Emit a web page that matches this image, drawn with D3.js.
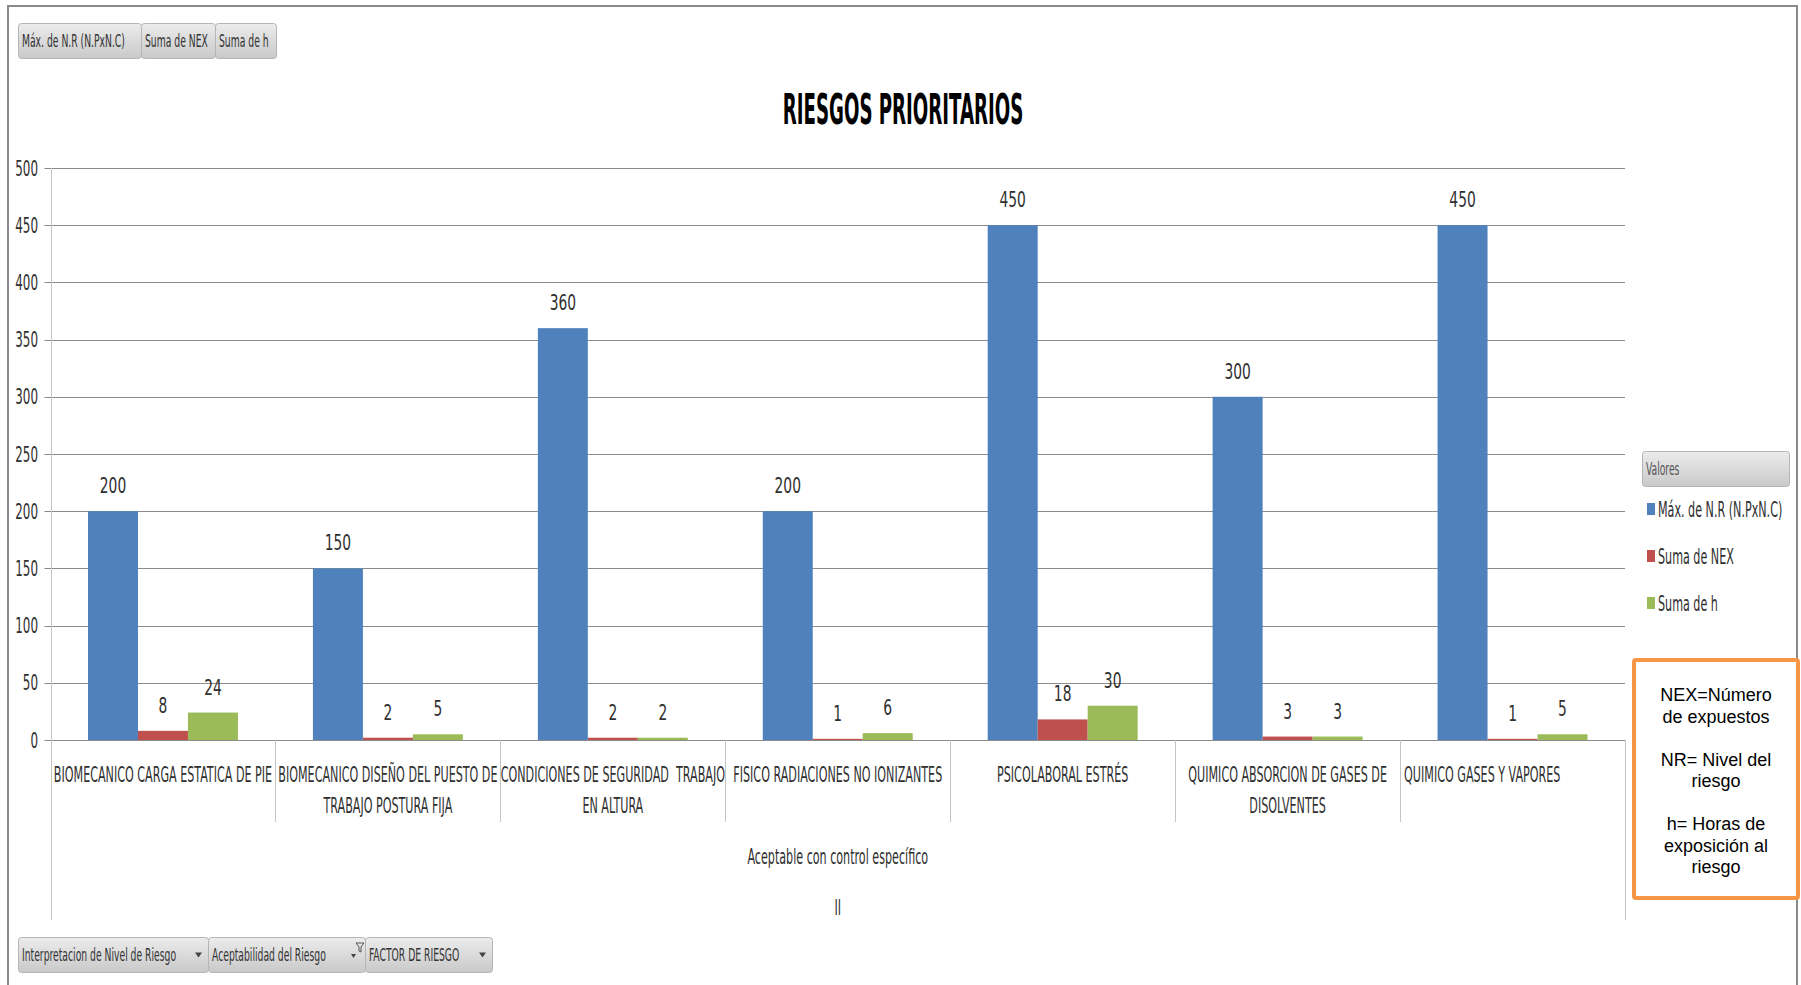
<!DOCTYPE html>
<html>
<head>
<meta charset="utf-8">
<script src="https://cdn.jsdelivr.net/npm/d3@7"></script>
<style>
body{margin:0;background:#fff;}
svg text{font-family:"Liberation Sans Narrow","DejaVu Sans Condensed","Arial Narrow",sans-serif;fill:#303030;white-space:pre;}
</style>
</head>
<body>
<svg id="chart" width="1801" height="985"></svg>
<script>
// data
var categories = [
    "BIOMECANICO CARGA ESTATICA DE PIE",
    "BIOMECANICO DISEÑO DEL PUESTO DE\nTRABAJO POSTURA FIJA",
    "CONDICIONES DE SEGURIDAD  TRABAJO\nEN ALTURA",
    "FISICO RADIACIONES NO IONIZANTES",
    "PSICOLABORAL ESTRÉS",
    "QUIMICO ABSORCION DE GASES DE\nDISOLVENTES",
    "QUIMICO GASES Y VAPORES"
];
var seriesNames = ["Máx. de N.R (N.PxN.C)", "Suma de NEX", "Suma de h"];
var maxNR = [200, 150, 360, 200, 450, 300, 450];
var sumNEX = [8, 2, 2, 1, 18, 3, 1];
var sumH = [24, 5, 2, 6, 30, 3, 5];
var yTicks = [0, 50, 100, 150, 200, 250, 300, 350, 400, 450, 500];
var level2Label = "Aceptable con control específico";
var level3Label = "II";
var topButtons = ["Máx. de N.R (N.PxN.C)", "Suma de NEX", "Suma de h"];
var bottomButtons = ["Interpretacion de Nivel de Riesgo", "Aceptabilidad del Riesgo", "FACTOR DE RIESGO"];
var noteLines = ["NEX=Número", "de expuestos", "", "NR= Nivel del", "riesgo", "", "h= Horas de", "exposición al", "riesgo"];

var colors = ["#4F81BD", "#C0504D", "#9BBB59"];
var SX = 0.59; // horizontal squeeze of the condensed labels
// excel left-aligns the last category label
var catAlign = ["middle", "middle", "middle", "middle", "middle", "middle", "start"];

var svg = d3.select("#chart");

var defs = svg.append("defs");
var grad = defs.append("linearGradient").attr("id", "btn").attr("x1", 0).attr("y1", 0).attr("x2", 0).attr("y2", 1);
grad.append("stop").attr("offset", "0%").attr("stop-color", "#ececec");
grad.append("stop").attr("offset", "100%").attr("stop-color", "#c9c9c9");

// squeezed text helper
function sqText(g, px, py, txt, size, anchor, sx) {
    return g.append("text")
        .attr("transform", "translate(" + px + "," + py + ") scale(" + (sx || SX) + ",1)")
        .attr("text-anchor", anchor || "middle")
        .style("font-size", size + "px")
        .text(txt);
}

// outer frame
svg.append("path")
    .attr("d", "M8,985 L8,6 L1797,6 L1797,985")
    .attr("fill", "none")
    .attr("stroke", "#8a8a8a")
    .attr("stroke-width", 2);

var plotLeft = 50.5, plotRight = 1625, plotTop = 168, plotBottom = 740;

var x = d3.scaleBand()
    .domain(d3.range(categories.length))
    .range([plotLeft, plotRight]);

var xs = d3.scaleBand()
    .domain(d3.range(seriesNames.length))
    .range([0, x.bandwidth()])
    .paddingOuter(0.75);

var y = d3.scaleLinear()
    .domain([0, 500])
    .range([plotBottom, plotTop]);

// gridlines
svg.append("g")
    .selectAll("line")
    .data(yTicks)
    .enter()
    .append("line")
    .attr("x1", plotLeft - 6)
    .attr("x2", plotRight)
    .attr("y1", function(d){ return Math.round(y(d)) + 0.5; })
    .attr("y2", function(d){ return Math.round(y(d)) + 0.5; })
    .attr("stroke", "#8c8c8c")
    .attr("stroke-width", 1);

// y tick labels
var yg = svg.append("g");
yTicks.forEach(function(t){
    sqText(yg, 38, y(t) + 7.5, String(t), 21, "end", 0.63);
});

// category separators
svg.append("g")
    .selectAll("line")
    .data(d3.range(1, categories.length))
    .enter()
    .append("line")
    .attr("x1", function(i){ return Math.round(x(i)) + 0.5; })
    .attr("x2", function(i){ return Math.round(x(i)) + 0.5; })
    .attr("y1", plotBottom)
    .attr("y2", 822)
    .attr("stroke", "#c4c4c4");

// outer axis lines reaching the lower levels
svg.append("line")
    .attr("x1", Math.round(plotLeft) + 0.5).attr("x2", Math.round(plotLeft) + 0.5)
    .attr("y1", plotTop).attr("y2", 920)
    .attr("stroke", "#c4c4c4");
svg.append("line")
    .attr("x1", Math.round(plotRight) + 0.5).attr("x2", Math.round(plotRight) + 0.5)
    .attr("y1", plotBottom).attr("y2", 920)
    .attr("stroke", "#c4c4c4");

// bars
var series = [maxNR, sumNEX, sumH];
var groups = svg.append("g")
    .selectAll("g")
    .data(categories)
    .enter()
    .append("g")
    .attr("transform", function(d, i){ return "translate(" + x(i) + ",0)"; });

series.forEach(function(vals, s){
    groups.append("rect")
        .attr("x", xs(s))
        .attr("width", xs.bandwidth())
        .attr("y", function(d, i){ return y(vals[i]); })
        .attr("height", function(d, i){ return plotBottom - y(vals[i]); })
        .attr("fill", colors[s]);
});

// data labels
var lg = svg.append("g");
series.forEach(function(vals, s){
    vals.forEach(function(v, i){
        sqText(lg, x(i) + xs(s) + xs.bandwidth() / 2, y(v) - 18, String(v), 22, "middle", 0.7);
    });
});

// category labels
var cg = svg.append("g");
categories.forEach(function(c, i){
    var ax = catAlign[i] === "start" ? x(i) + 4 : x(i) + x.bandwidth() / 2;
    c.split("\n").forEach(function(line, k){
        sqText(cg, ax, 781.5 + k * 31, line, 21, catAlign[i]);
    });
});

sqText(svg, (plotLeft + plotRight) / 2, 863.5, level2Label, 21, "middle");
sqText(svg, (plotLeft + plotRight) / 2, 914.5, level3Label, 21, "middle");

// title
svg.append("text")
    .attr("transform", "translate(903,124) scale(0.47,1)")
    .attr("text-anchor", "middle")
    .style("font-size", "43px")
    .style("font-weight", "bold")
    .style("fill", "#000")
    .text("RIESGOS PRIORITARIOS");

// field buttons
function button(px, py, w, h, label, arrow, sx) {
    var b = svg.append("g");
    b.append("rect")
        .attr("x", px + 0.5).attr("y", py + 0.5)
        .attr("width", w).attr("height", h)
        .attr("rx", 3)
        .attr("fill", "url(#btn)")
        .attr("stroke", "#b5b5b5");
    sqText(b, px + 4, py + h / 2 + 6.5, label, 18, "start", sx || 0.57).style("fill", "#333");
    if (arrow === "down") {
        b.append("path")
            .attr("d", "M" + (px + w - 13) + "," + (py + h / 2 - 2) + " l7,0 l-3.5,5 z")
            .attr("fill", "#444");
    }
    if (arrow === "filter") {
        b.append("path")
            .attr("d", "M" + (px + w - 9) + "," + (py + 6) + " l8,0 l-3,4 l0,5 l-2,-1 l0,-4 z")
            .attr("fill", "none").attr("stroke", "#555").attr("stroke-width", 1);
        b.append("path")
            .attr("d", "M" + (px + w - 14) + "," + (py + 17) + " l5,0 l-2.5,4 z")
            .attr("fill", "#444");
    }
    return b;
}

var topX = [18, 141, 215], topW = [123, 74, 61];
topButtons.forEach(function(t, i){ button(topX[i], 23, topW[i], 35, t); });

var botX = [18, 208, 365], botW = [190, 157, 127];
var botArrow = ["down", "filter", "down"];
bottomButtons.forEach(function(t, i){ button(botX[i], 937, botW[i], 35, t, botArrow[i]); });

// legend
button(1642, 451, 147, 35, "Valores").select("text").style("fill", "#555");
var legY = [503, 550, 597];
seriesNames.forEach(function(n, i){
    svg.append("rect")
        .attr("x", 1647).attr("y", legY[i])
        .attr("width", 8).attr("height", 12)
        .attr("fill", colors[i]);
    sqText(svg, 1658, legY[i] + 14, n, 21, "start");
});

// note box
svg.append("rect")
    .attr("x", 1634).attr("y", 660)
    .attr("width", 164).attr("height", 238)
    .attr("rx", 2)
    .attr("fill", "#fff")
    .attr("stroke", "#F79646")
    .attr("stroke-width", 4);

svg.append("g")
    .selectAll("text")
    .data(noteLines)
    .enter()
    .append("text")
    .attr("x", 1716)
    .attr("y", function(d, i){ return 701 + i * 21.5; })
    .attr("text-anchor", "middle")
    .style("font-family", "'Liberation Sans', Arial, sans-serif")
    .style("font-size", "18px")
    .style("fill", "#000")
    .text(function(d){ return d; });
</script>
</body>
</html>
